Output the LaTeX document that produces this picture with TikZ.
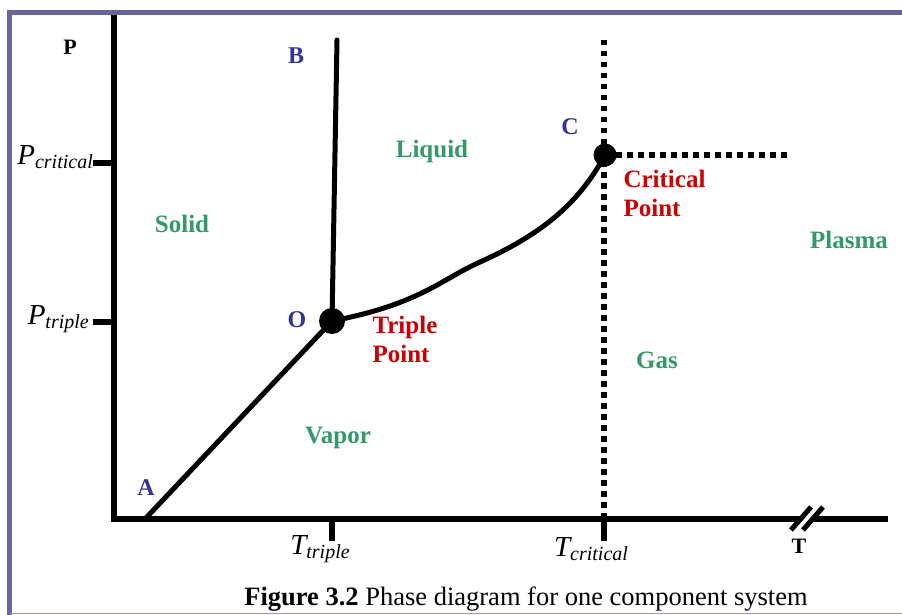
\documentclass[tikz,border=0pt]{standalone}
\usepackage{fontspec}
\setmainfont{Liberation Serif}
\usetikzlibrary{calc, positioning}
\definecolor{frameblue}{RGB}{102,102,153}
\definecolor{framelight}{RGB}{153,153,204}
\definecolor{phgreen}{RGB}{51,153,102}
\definecolor{ptblue}{RGB}{51,51,153}
\definecolor{ptred}{RGB}{204,0,0}
\newcommand{\subvar}[2]{{\itshape #1}\raisebox{-0.35ex}{\fontsize{20}{21}\selectfont\itshape #2}}

\begin{document}
\begin{tikzpicture}[x=1pt, y=-1pt,
  axis/.style={line width=5.5pt, line cap=rect},
  curve/.style={line width=5pt, line cap=round},
  dotline/.style={line width=5.5pt, dash pattern=on 5.5pt off 5.5pt},
  phase/.style={font=\bfseries\fontsize{25}{28}\selectfont, text=phgreen},
  letter/.style={font=\bfseries\fontsize{24}{26}\selectfont, text=ptblue},
  pointlabel/.style={font=\bfseries\fontsize{25}{29}\selectfont, text=ptred,
    align=left, anchor=west},
  varlabel/.style={font=\fontsize{29}{30}\selectfont}
]
\useasboundingbox (0,0) rectangle (902,615);
% frame
\draw[frameblue, line width=5pt] (9.5,615) -- (9.5,12.5) -- (902,12.5);
\draw[framelight, line width=1.5pt] (9.5,613.5) -- (902,613.5);

% axes
\coordinate (org) at (114,519);
\coordinate (ytop) at (114,18);
\coordinate (xend) at (885,519);
\draw[axis] (ytop) -- (org) -- (xend);
% axis break
\draw[white, line width=5pt] (797,531) -- (817,507);
\draw[line width=5pt] (791,530) -- (811,507);
\draw[line width=5pt] (803,530) -- (823,507);

% phase points
\coordinate (A) at (145,519);
\coordinate (B) at (337,40);
\node[circle, fill, inner sep=0pt, minimum size=26pt] (O) at (332,321) {};
\node[circle, fill, inner sep=0pt, minimum size=23pt] (C) at (605,155) {};
\coordinate (Ctop) at (604,40);
\coordinate (Cbot) at (604,519);
\coordinate (Cright) at (790,155);

% dotted limits
\draw[dotline] (Ctop) -- (Cbot);
\draw[dotline] (C.center) -- (Cright);

% phase lines
\draw[curve] (A) -- (O.center);
\draw[curve] (O.center) -- (B);
\draw[curve] (O.center) .. controls (420,304) and (440,280) .. (480,262)
  .. controls (540,235) and (578,205) .. (C.center);

% ticks
\coordinate (pc) at (93,163);
\coordinate (pt) at (93,322);
\coordinate (tt) at (332,541);
\coordinate (tc) at (604,541);
\draw[axis, line cap=butt] (pc) -- (pc -| org);
\draw[axis, line cap=butt] (pt) -- (pt -| org);
\draw[axis, line cap=butt] (tt) -- (tt |- org);
\draw[axis, line cap=butt] (tc) -- (tc |- org);

% axis labels
\node[font=\bfseries\fontsize{22}{24}\selectfont] (Plbl) at (70,47) {P};
\node[font=\bfseries\fontsize{22}{24}\selectfont] (Tlbl) at (799,546) {T};
\node[varlabel, anchor=east, inner sep=0pt] (Pcrit) at (93,157) {\subvar{P}{critical}};
\node[varlabel, anchor=east, inner sep=0pt] (Ptrip) at (89,319) {\subvar{P}{triple}};
\node[varlabel] (Ttrip) at (320,549) {\subvar{T}{triple}};
\node[varlabel] (Tcrit) at (591,549) {\subvar{T}{critical}};

% point letters
\node[letter] (Albl) at (146,488) {A};
\node[letter] (Blbl) at (296,56) {B};
\node[letter] (Clbl) at (570,127) {C};
\node[letter] (Olbl) at (297,320) {O};

% regions
\node[phase] (liquid) at (432,151) {Liquid};
\node[phase] (solid) at (182,224) {Solid};
\node[phase] (plasma) at (849,240) {Plasma};
\node[phase] (gas) at (657,360) {Gas};
\node[phase] (vapor) at (338,438) {Vapor};

\node[pointlabel] (triple) at (369,339) {Triple\\Point};
\node[pointlabel] (critical) at (620,193) {Critical\\Point};

% caption
\node[font=\fontsize{26.5}{28}\selectfont] (caption) at (526,599)
  {\textbf{Figure 3.2} Phase diagram for one component system};
\end{tikzpicture}
\end{document}
